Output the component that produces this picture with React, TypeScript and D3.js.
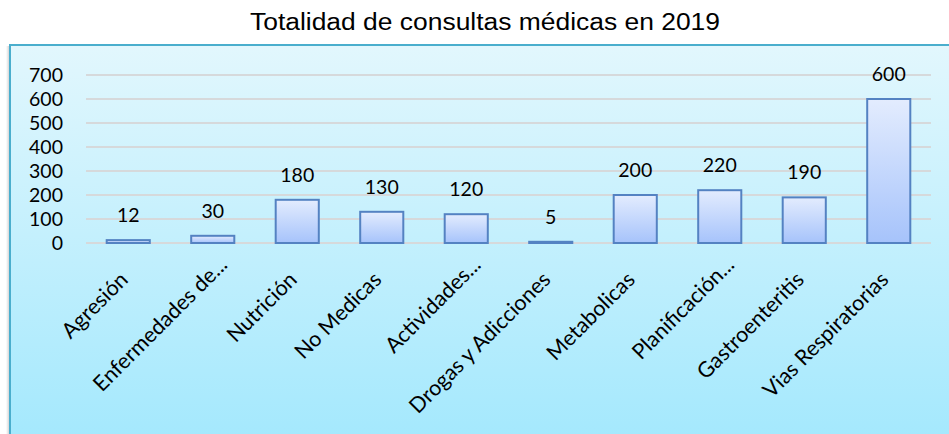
import React from "react";
import * as d3 from "d3";

const categories = [
  "Agresión",
  "Enfermedades de...",
  "Nutrición",
  "No Medicas",
  "Actividades...",
  "Drogas y Adicciones",
  "Metabolicas",
  "Planificación...",
  "Gastroenteritis",
  "Vias Respiratorias",
];
const values = [12, 30, 180, 130, 120, 5, 200, 220, 190, 600];
const yTicks = [0, 100, 200, 300, 400, 500, 600, 700];
const title = "Totalidad de consultas médicas en 2019";

const W = 949;
const H = 434;
const FONT = "Lato, 'Open Sans', sans-serif";

export default function App() {
  const x = d3
    .scaleBand<string>()
    .domain(categories)
    .range([86, 931])
    .paddingInner(0.49)
    .paddingOuter(0.245);
  const y = d3.scaleLinear().domain([0, 700]).range([243, 75]);

  return (
    <div style={{ position: "absolute", left: 0, top: 0 }}>
      <svg width={W} height={H} style={{ display: "block" }}>
        <defs>
          <linearGradient id="bg" x1="0" y1="0" x2="0" y2="1">
            <stop offset="0" stopColor="#e2f7fd" />
            <stop offset="1" stopColor="#9ee7fd" />
          </linearGradient>
          <linearGradient id="bar" x1="0" y1="0" x2="0" y2="1">
            <stop offset="0" stopColor="#e3ecfe" />
            <stop offset="1" stopColor="#a6c3fb" />
          </linearGradient>
          <linearGradient id="shadow" x1="0" y1="0" x2="1" y2="0">
            <stop offset="0" stopColor="#ffffff" />
            <stop offset="1" stopColor="#c8c8c8" />
          </linearGradient>
        </defs>
        <rect x={0} y={0} width={W} height={H} fill="#ffffff" />
        <text
          x={250}
          y={30}
          textLength={470}
          lengthAdjust="spacingAndGlyphs"
          fontFamily="'Liberation Sans', Arial, sans-serif"
          fontSize={23}
          fill="#000"
        >
          {title}
        </text>
        {/* frame */}
        <rect x={6} y={46} width={4} height={H - 46} fill="url(#shadow)" />
        <rect x={10} y={45} width={W} height={H} fill="url(#bg)" stroke="#4aaecd" strokeWidth={2} />
        {/* grid */}
        {yTicks.map((t) => (
          <line
            key={t}
            x1={86}
            x2={931}
            y1={y(t)}
            y2={y(t)}
            stroke="#d6d9db"
            strokeWidth={2}
          />
        ))}
        {yTicks.map((t) => (
          <text
            key={"yl" + t}
            x={63}
            y={y(t)}
            dy="0.35em"
            textAnchor="end"
            fontFamily={FONT}
            fontSize={19.5}
            fill="#000"
          >
            {t}
          </text>
        ))}
        {/* bars */}
        {categories.map((c, i) => (
          <rect
            key={"b" + c}
            x={x(c)}
            y={y(values[i])}
            width={x.bandwidth()}
            height={y(0) - y(values[i])}
            fill="url(#bar)"
            stroke="#5482c2"
            strokeWidth={2}
          />
        ))}
        {categories.map((c, i) => (
          <text
            key={"v" + c}
            x={(x(c) as number) + x.bandwidth() / 2}
            y={y(values[i]) - 18}
            textAnchor="middle"
            fontFamily={FONT}
            fontSize={19.5}
            fill="#000"
          >
            {values[i]}
          </text>
        ))}
        {categories.map((c) => {
          const cx = (x(c) as number) + x.bandwidth() / 2;
          const cy = 281;
          const truncated = c.endsWith("...");
          return (
            <text
              key={"x" + c}
              transform={`translate(${cx + 1},${cy}) rotate(-45)`}
              dx={truncated ? 21 : 0}
              textAnchor="end"
              fontFamily={FONT}
              fontSize={21.5}
              fill="#000"
            >
              {c}
            </text>
          );
        })}
      </svg>
    </div>
  );
}
